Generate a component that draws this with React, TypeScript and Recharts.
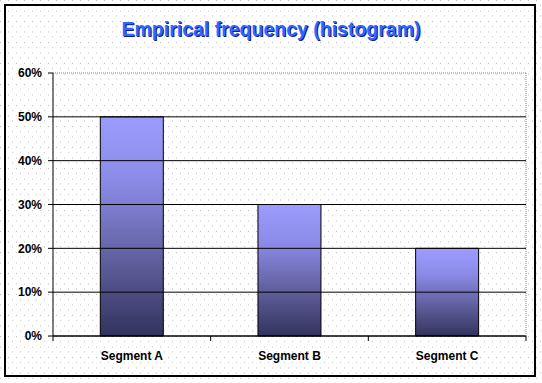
import React from 'react';
import { BarChart, Bar, XAxis, YAxis, ReferenceLine } from 'recharts';

const segments = ['Segment A', 'Segment B', 'Segment C'];
const frequencies = [0.5, 0.3, 0.2];
const percentTicks = [0, 0.1, 0.2, 0.3, 0.4, 0.5, 0.6];

const data = segments.map((name, i) => ({ name, freq: frequencies[i] }));

const W = 542;
const H = 383;
const FONT = '"Liberation Sans", Arial, sans-serif';

// category labels sit under the bar, tick marks sit on the category boundaries
function SegmentTick(props: any) {
  const { x, y, payload, width, visibleTicksCount, index } = props;
  const band = width / visibleTicksCount;
  return (
    <g>
      {index === 0 && <line x1={x - band / 2} x2={x - band / 2} y1={y} y2={y + 5} stroke="#000" />}
      <line x1={x + band / 2} x2={x + band / 2} y1={y} y2={y + 5} stroke="#000" />
      <text x={x} y={y + 15} dy="0.71em" textAnchor="middle" fontFamily={FONT} fontSize={12} fontWeight="bold" fill="#000">
        {payload.value}
      </text>
    </g>
  );
}

export default function App() {
  return (
    <div style={{ position: 'absolute', left: 0, top: 0, width: W, height: H, background: '#fff', fontFamily: FONT }}>
      <svg width={W} height={H} style={{ position: 'absolute', left: 0, top: 0 }}>
        <defs>
          <pattern id="dots" width={8} height={10.5} patternUnits="userSpaceOnUse">
            <rect x={0} y={0} width={1} height={1} fill="#bdbdbd" />
            <rect x={4} y={5} width={1} height={1} fill="#bdbdbd" />
          </pattern>
        </defs>
        <rect x={0} y={0} width={W} height={H} fill="url(#dots)" />
        <rect x={5} y={5} width={530} height={371} fill="none" stroke="#000" strokeWidth={2} />
      </svg>
      <div
        style={{
          position: 'absolute',
          left: 0,
          top: 19,
          width: W,
          textAlign: 'center',
          fontSize: 19.5,
          lineHeight: '20px',
          fontWeight: 'bold',
          color: '#3366ff',
          textShadow: '1px 1px 0 #0d1f80',
        }}
      >
        Empirical frequency (histogram)
      </div>
      <div style={{ position: 'absolute', left: 0, top: 0 }}>
        <BarChart
          width={W}
          height={H}
          data={data}
          margin={{ top: 72, right: 15, bottom: 17, left: 0 }}
          barCategoryGap="30%"
        >
          <defs>
            <linearGradient id="barFill" x1="0" y1="0" x2="0" y2="1">
              <stop offset="0%" stopColor="#9c9cff" />
              <stop offset="30%" stopColor="#8a8ae6" />
              <stop offset="60%" stopColor="#6666a8" />
              <stop offset="100%" stopColor="#33335e" />
            </linearGradient>
          </defs>
          <XAxis
            dataKey="name"
            height={30}
            tickLine={false}
            tickSize={0}
            tickMargin={0}
            axisLine={{ stroke: '#000', strokeWidth: 1.5 }}
            tick={<SegmentTick />}
            interval={0}
          />
          <XAxis xAxisId="top" dataKey="name" orientation="top" height={1} tick={false} tickLine={false}
            axisLine={{ stroke: '#808080', strokeDasharray: '1 1' }} />
          <YAxis
            width={53}
            domain={[0, 0.6]}
            ticks={percentTicks}
            interval={0}
            tickSize={5}
            tickMargin={6}
            tickFormatter={(v: number) => `${Math.round(v * 100)}%`}
            tick={{ fontFamily: FONT, fontSize: 12, fontWeight: 'bold', fill: '#000' }}
            tickLine={{ stroke: '#000' }}
            axisLine={{ stroke: '#000' }}
          />
          <YAxis yAxisId="right" orientation="right" width={1} domain={[0, 0.6]} tick={false} tickLine={false}
            axisLine={{ stroke: '#808080', strokeDasharray: '1 1' }} />
          {percentTicks.slice(1, -1).map((t) => (
            <ReferenceLine key={t} y={t} stroke="#000" strokeWidth={1} />
          ))}
          <Bar dataKey="freq" fill="url(#barFill)" stroke="#000" strokeWidth={1} isAnimationActive={false} />
        </BarChart>
      </div>
    </div>
  );
}
